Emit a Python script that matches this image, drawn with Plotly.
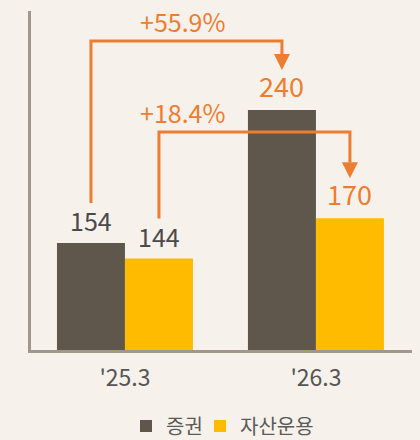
import plotly.graph_objects as go

# ---- data ----
periods = ["'25.3", "'26.3"]
series_names = ["증권", "자산운용"]
securities = [154, 240]
asset_mgmt = [144, 170]
growth_labels = ["+55.9%", "+18.4%"]

# ---- layout constants ----
W, H = 420, 440
ML, MR, MT, MB = 31, 8, 11, 90
PLOT_H = H - MT - MB
PLOT_W = W - ML - MR
Y0 = 84.9
Y1 = Y0 + PLOT_H / 1.547
XR = [-0.492, 1.503]
YPX = (Y1 - Y0) / PLOT_H  # data units per pixel

BG = "#F6F1EA"
DARK = "#5F574C"
YEL = "#FFBB00"
ORG = "#ED7D31"
AXIS = "#A0988C"
TXT = "#4A4A4A"
FONT = "Noto Sans CJK KR"

xs = list(range(len(periods)))
BAR_W = 0.356
offs = [-BAR_W / 2, BAR_W / 2]

fig = go.Figure()
for name, vals, col, lg in [(series_names[0], securities, DARK, "legend"),
                            (series_names[1], asset_mgmt, YEL, "legend2")]:
    fig.add_trace(go.Bar(x=xs, y=vals, name=name, marker=dict(color=col, line=dict(width=0)),
                         hoverinfo="skip", legend=lg))

annotations = []
series_vals = [securities, asset_mgmt]
for s, vals in enumerate(series_vals):
    for i, v in enumerate(vals):
        latest = i == len(vals) - 1
        annotations.append(dict(
            x=xs[i] + offs[s], y=v, xref="x", yref="y", text=str(v), showarrow=False,
            yanchor="bottom", yshift=3,
            font=dict(family=FONT, size=27 if latest else 25, color=ORG if latest else TXT)))

shapes = []
for s, vals in enumerate(series_vals):
    x_from = xs[0] + offs[s]
    x_to = xs[-1] + offs[s]
    y_start = vals[0] + 40 * YPX
    y_tip = vals[-1] + 40 * YPX
    if s == 0:
        y_h = vals[-1] + 69 * YPX
    else:
        y_h = securities[-1] - 22 * YPX
    y_head_top = y_tip + 16 * YPX
    shapes.append(dict(type="path", xref="x", yref="y",
                       path=f"M {x_from},{y_start} L {x_from},{y_h} L {x_to},{y_h} L {x_to},{y_head_top}",
                       line=dict(color=ORG, width=3)))
    shapes.append(dict(type="path", xref="x", yref="y", xsizemode="pixel", ysizemode="pixel",
                       xanchor=x_to, yanchor=y_tip,
                       path="M -8,16 L 8,16 L 0,0 Z", fillcolor=ORG, line=dict(width=0)))
    annotations.append(dict(x=0.30, y=y_h, xref="x", yref="y", text=growth_labels[s],
                            showarrow=False, yanchor="middle", yshift=20,
                            font=dict(family=FONT, size=25, color=ORG)))

legend_style = dict(orientation="h", xanchor="left", xref="container",
                    y=1 - 426 / H, yanchor="middle", yref="container",
                    font=dict(family=FONT, size=20, color="#5A5A5A"),
                    bgcolor="rgba(0,0,0,0)")

fig.update_layout(
    width=W, height=H, margin=dict(l=ML, r=MR, t=MT, b=MB, autoexpand=False),
    paper_bgcolor=BG, plot_bgcolor=BG,
    barmode="group", bargap=0.288, bargroupgap=0,
    showlegend=True,
    legend=dict(x=126 / W, **legend_style),
    legend2=dict(x=200 / W, **legend_style),
    xaxis=dict(range=XR, tickvals=xs, ticktext=periods, showgrid=False, zeroline=False,
               showline=True, linecolor=AXIS, linewidth=3, ticks="", ticklabelstandoff=5,
               tickfont=dict(family=FONT, size=23, color="#555555"), fixedrange=True,
               automargin=False),
    yaxis=dict(range=[Y0, Y1], showgrid=False, zeroline=False, showticklabels=False,
               showline=True, linecolor=AXIS, linewidth=3, ticks="", fixedrange=True,
               automargin=False),
    shapes=shapes, annotations=annotations,
    font=dict(family=FONT),
)

fig.write_html(
    "out.html",
    config={"displayModeBar": False},
    post_script="document.body.style.margin='0';document.body.style.background='" + BG + "';",
)
